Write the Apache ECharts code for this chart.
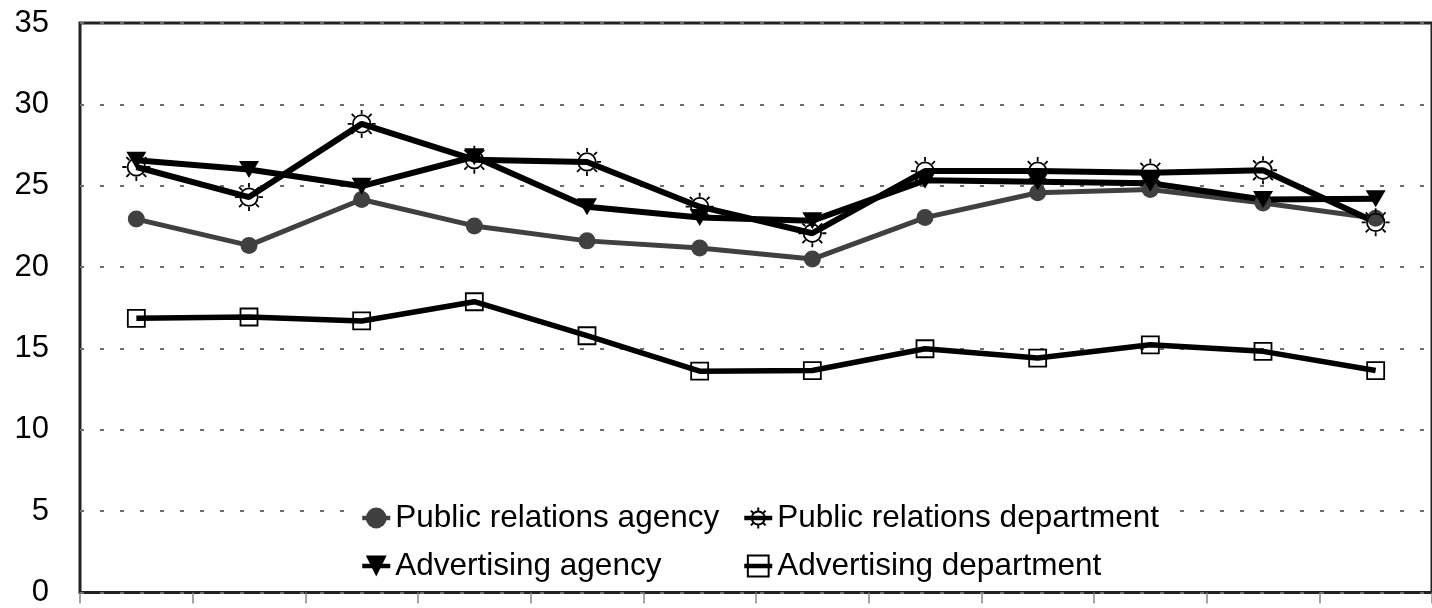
<!DOCTYPE html>
<html>
<head>
<meta charset="utf-8">
<script src="https://cdn.jsdelivr.net/npm/echarts@6/dist/echarts.min.js"></script>
<style>
  html, body { margin: 0; padding: 0; background: #fff; }
  #chart { width: 1432px; height: 608px; }
</style>
</head>
<body>
<div id="chart"></div>
<script>
// Twelve periods along the x axis (no labels are printed on the axis)
const categories = ['1', '2', '3', '4', '5', '6', '7', '8', '9', '10', '11', '12'];

const seriesNames = [
  'Public relations agency',
  'Public relations department',
  'Advertising agency',
  'Advertising department'
];

const prAgency     = [22.95, 21.33, 24.15, 22.53, 21.61, 21.17, 20.49, 23.04, 24.57, 24.77, 23.94, 23.0];
const prDepartment = [26.15, 24.3, 28.8, 26.6, 26.46, 23.71, 22.08, 25.9, 25.9, 25.79, 25.95, 22.75];
const adAgency     = [26.56, 26.0, 24.97, 26.78, 23.71, 23.04, 22.85, 25.33, 25.25, 25.15, 24.15, 24.2];
const adDepartment = [16.85, 16.93, 16.69, 17.87, 15.78, 13.6, 13.64, 14.98, 14.41, 15.22, 14.82, 13.64];

const yTicks = [0, 5, 10, 15, 20, 25, 30, 35];

// Sun-shaped marker: ring plus eight short rays
const sunPath = 'path://M19.5 12 A7.5 7.5 0 1 1 4.5 12 A7.5 7.5 0 1 1 19.5 12 Z ' +
  'M12 0 L12 3.5 M12 20.5 L12 24 M0 12 L3.5 12 M20.5 12 L24 12 ' +
  'M3.5 3.5 L6 6 M18 18 L20.5 20.5 M20.5 3.5 L18 6 M3.5 20.5 L6 18';

const FONT = '"Liberation Sans", Arial, sans-serif';

const chart = echarts.init(document.getElementById('chart'), null, { renderer: 'canvas' });

const legendText = { fontFamily: FONT, fontSize: 31.5, color: '#000', lineHeight: 30 };

chart.setOption({
  backgroundColor: '#fff',
  animation: false,
  grid: {
    left: 80, right: -8, top: 23, bottom: 11,
    show: true, borderColor: '#222', borderWidth: 3, backgroundColor: 'transparent'
  },
  legend: [
    {
      data: [seriesNames[0], seriesNames[2]],
      orient: 'vertical', left: 357, top: 498, padding: [4, 26, 4, 3],
      backgroundColor: '#fff',
      itemWidth: 28, itemHeight: 26, itemGap: 16,
      lineStyle: { width: 4.5 },
      textStyle: legendText
    },
    {
      data: [seriesNames[1], seriesNames[3]],
      orient: 'vertical', left: 740, top: 498, padding: [4, 8, 4, 2],
      backgroundColor: '#fff',
      itemWidth: 28, itemHeight: 26, itemGap: 16,
      lineStyle: { width: 4.5 },
      textStyle: legendText
    }
  ],
  xAxis: {
    type: 'category',
    data: categories,
    boundaryGap: true,
    axisLine: { show: false },
    axisTick: { show: true, inside: false, length: 11, interval: 0, lineStyle: { color: '#888', width: 1.5 } },
    axisLabel: { show: false },
    splitLine: { show: false }
  },
  yAxis: {
    type: 'value',
    min: yTicks[0], max: yTicks[yTicks.length - 1], interval: 5,
    axisLine: { show: false },
    axisTick: { show: false },
    axisLabel: { margin: 31, fontFamily: FONT, fontSize: 31, color: '#000' },
    splitLine: { show: true, lineStyle: { color: '#6e6e6e', width: 1.8, type: [4, 16] } }
  },
  series: [
    {
      name: seriesNames[0], type: 'line', data: prAgency,
      symbol: 'circle', symbolSize: 17,
      itemStyle: { color: '#404040' },
      lineStyle: { color: '#404040', width: 5 }
    },
    {
      name: seriesNames[1], type: 'line', data: prDepartment,
      symbol: sunPath, symbolSize: 28,
      itemStyle: { color: 'rgba(255,255,255,0)', borderColor: '#000', borderWidth: 1.8 },
      lineStyle: { color: '#000', width: 6 }
    },
    {
      name: seriesNames[2], type: 'line', data: adAgency,
      symbol: 'triangle', symbolRotate: 180, symbolSize: [20, 17],
      itemStyle: { color: '#000' },
      lineStyle: { color: '#000', width: 6 }
    },
    {
      name: seriesNames[3], type: 'line', data: adDepartment,
      symbol: 'rect', symbolSize: 17,
      itemStyle: { color: 'rgba(255,255,255,0)', borderColor: '#000', borderWidth: 1.8 },
      lineStyle: { color: '#000', width: 5.5 }
    }
  ]
});
</script>
</body>
</html>
